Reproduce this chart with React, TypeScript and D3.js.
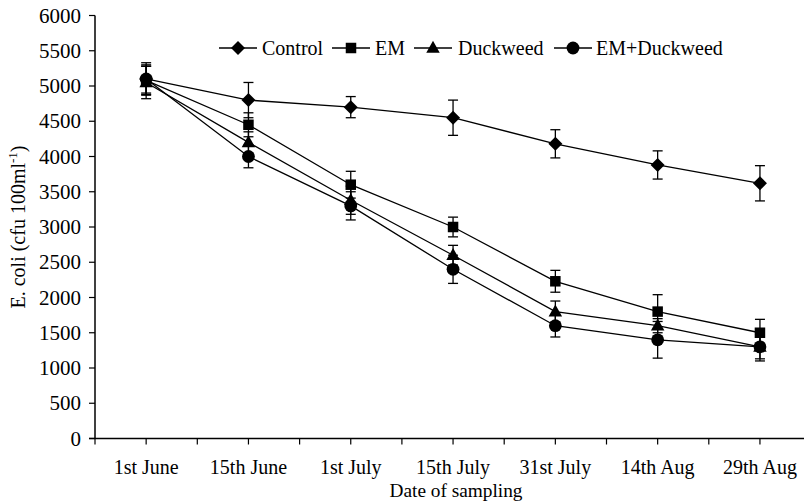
import React from "react";
import * as d3 from "d3";

const categories = ["1st June", "15th June", "1st July", "15th July", "31st July", "14th Aug", "29th Aug"];
const seriesNames = ["Control", "EM", "Duckweed", "EM+Duckweed"];
const controlValues = [5100, 4800, 4700, 4550, 4180, 3880, 3620];
const controlErrors = [230, 250, 150, 250, 200, 200, 250];
const emValues = [5080, 4450, 3600, 3000, 2230, 1800, 1500];
const emErrors = [200, 170, 190, 140, 155, 240, 190];
const duckweedValues = [5050, 4200, 3380, 2600, 1800, 1600, 1300];
const duckweedErrors = [230, 150, 200, 140, 150, 100, 170];
const emDuckweedValues = [5100, 4000, 3300, 2400, 1600, 1400, 1300];
const emDuckweedErrors = [200, 160, 200, 200, 160, 260, 200];
const yTicks = [0, 500, 1000, 1500, 2000, 2500, 3000, 3500, 4000, 4500, 5000, 5500, 6000];

const W = 804;
const H = 502;
const FONT = "'Liberation Serif', 'Times New Roman', serif";

type Shape = "diamond" | "square" | "triangle" | "circle";
const shapes: Shape[] = ["diamond", "square", "triangle", "circle"];

function Marker({ shape, cx, cy }: { shape: Shape; cx: number; cy: number }) {
  if (shape === "diamond") {
    const r = 7;
    return <path d={`M${cx},${cy - r}L${cx + r},${cy}L${cx},${cy + r}L${cx - r},${cy}Z`} fill="#000" />;
  }
  if (shape === "square") {
    const s = 10.5;
    return <rect x={cx - s / 2} y={cy - s / 2} width={s} height={s} fill="#000" />;
  }
  if (shape === "triangle") {
    const h = 12;
    const w = 13.5;
    return <path d={`M${cx},${cy - h * 0.6}L${cx + w / 2},${cy + h * 0.4}L${cx - w / 2},${cy + h * 0.4}Z`} fill="#000" />;
  }
  return <circle cx={cx} cy={cy} r={6.4} fill="#000" />;
}

export default function App() {
  const x = d3.scaleLinear().domain([-0.5, 6.5]).range([95, 95 + 7 * 102.3]);
  const y = d3.scaleLinear().domain([0, 6000]).range([438.5, 15.5]);
  const series = [
    { name: seriesNames[0], values: controlValues, errors: controlErrors, shape: shapes[0] },
    { name: seriesNames[1], values: emValues, errors: emErrors, shape: shapes[1] },
    { name: seriesNames[2], values: duckweedValues, errors: duckweedErrors, shape: shapes[2] },
    { name: seriesNames[3], values: emDuckweedValues, errors: emDuckweedErrors, shape: shapes[3] },
  ];
  const line = d3
    .line<number>()
    .x((_, i) => x(i))
    .y((d) => y(d));
  const xTickVals = d3.range(-0.5, 6.51, 0.5);
  const legendItems = [
    { x0: 219, text: 262 },
    { x0: 332, text: 375 },
    { x0: 414, text: 458 },
    { x0: 554, text: 596 },
  ];
  const legendY = 48;

  return (
    <svg width={W} height={H} style={{ position: "absolute", left: 0, top: 0, background: "#fff" }}>
      <rect width={W} height={H} fill="#fff" />
      {series.map((s) => (
        <path key={s.name + "l"} d={line(s.values) || ""} fill="none" stroke="#000" strokeWidth={1.3} />
      ))}
      {series.map((s) =>
        s.values.map((v, i) => {
          const cx = x(i);
          const y1 = y(v + s.errors[i]);
          const y2 = y(v - s.errors[i]);
          return (
            <g key={s.name + "e" + i} stroke="#000" strokeWidth={1.3}>
              <line x1={cx} x2={cx} y1={y1} y2={y2} />
              <line x1={cx - 5} x2={cx + 5} y1={y1} y2={y1} />
              <line x1={cx - 5} x2={cx + 5} y1={y2} y2={y2} />
            </g>
          );
        })
      )}
      {series.map((s) =>
        s.values.map((v, i) => <Marker key={s.name + "m" + i} shape={s.shape} cx={x(i)} cy={y(v)} />)
      )}
      <line x1={95} x2={95} y1={y(6000)} y2={y(0)} stroke="#000" strokeWidth={1.5} />
      {yTicks.map((t) => (
        <g key={"yt" + t}>
          <line x1={89} x2={95} y1={y(t)} y2={y(t)} stroke="#000" strokeWidth={1.2} />
          <text x={81} y={y(t)} dy="0.34em" textAnchor="end" fontFamily={FONT} fontSize={21}>
            {t}
          </text>
        </g>
      ))}
      <line x1={89} x2={x(6.5)} y1={y(0)} y2={y(0)} stroke="#000" strokeWidth={1.5} />
      {xTickVals.map((t) => (
        <line key={"xt" + t} x1={x(t)} x2={x(t)} y1={y(0)} y2={y(0) + 6} stroke="#000" strokeWidth={1.2} />
      ))}
      {categories.map((c, i) => (
        <text key={c} x={x(i)} y={474} textAnchor="middle" fontFamily={FONT} fontSize={20}>
          {c}
        </text>
      ))}
      <text
        x={456}
        y={497}
        textAnchor="middle"
        fontFamily={FONT}
        fontSize={19}
        textLength={133}
        lengthAdjust="spacingAndGlyphs"
      >
        Date of sampling
      </text>
      <text
        transform={`translate(25,${y(3000)}) rotate(-90)`}
        textAnchor="middle"
        fontFamily={FONT}
        fontSize={20}
      >
        E. coli (cfu 100ml<tspan dy={-8} fontSize={13}>-1</tspan>
        <tspan dy={8}>)</tspan>
      </text>
      {series.map((s, k) => {
        const it = legendItems[k];
        const mid = it.x0 + 19;
        return (
          <g key={"lg" + s.name}>
            <line x1={it.x0} x2={it.x0 + 38} y1={legendY} y2={legendY} stroke="#000" strokeWidth={1.3} />
            <Marker shape={s.shape} cx={mid} cy={legendY} />
            <text x={it.text} y={legendY} dy="0.34em" fontFamily={FONT} fontSize={20}>
              {s.name}
            </text>
          </g>
        );
      })}
    </svg>
  );
}
